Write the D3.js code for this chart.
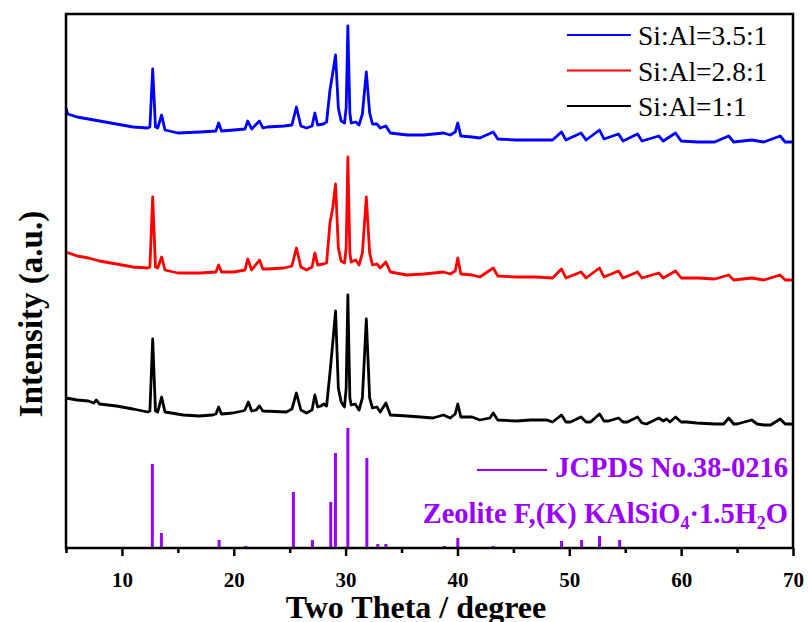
<!DOCTYPE html>
<html lang="en">

<head>
  <script src="https://cdn.jsdelivr.net/npm/d3@7/dist/d3.min.js"></script>

  <style>
    body {
      margin: 0;
      background: #fff;
    }

    svg text {
      font-family: "Liberation Serif", "Times New Roman", Times, "DejaVu Serif", serif;
    }

    .axis text {
      fill: black;
      font-weight: bold;
      font-size: 21px;
    }

    .axis line {
      stroke: black;
      stroke-width: 2.5;
    }

    .trace {
      fill: none;
      stroke-width: 2.8;
      stroke-linejoin: round;
    }
  </style>
</head>

<body>
  <svg id="chart" width="808" height="622"></svg>

  <script>
    // XRD traces, [2theta, intensity (a.u.)]
    var ratio11 = [
      [5.0, 150], [6.0, 148], [7.0, 147], [7.5, 145], [7.7, 148], [8.0, 144], [9.5, 142], [11.0, 139],
      [12.3, 136], [12.5, 137], [12.75, 209], [13.0, 137], [13.2, 136], [13.55, 151], [13.85, 136],
      [15.5, 133], [16.9, 132], [18.1, 133], [18.4, 134], [18.65, 141], [18.9, 134], [19.9, 135],
      [20.8, 137], [21.0, 138], [21.3, 146], [21.6, 137], [22.0, 138], [22.3, 142], [22.6, 137],
      [24.7, 136], [25.2, 139], [25.6, 155], [26.0, 138], [26.5, 135], [27.0, 138], [27.25, 153],
      [27.5, 141], [27.8, 142], [28.05, 144], [28.3, 142], [28.6, 175], [28.85, 205], [29.1, 237],
      [29.35, 160], [29.6, 146], [29.9, 141], [30.05, 160], [30.2, 253], [30.38, 150], [30.5, 143],
      [30.85, 144], [31.2, 138], [31.5, 150], [31.85, 229], [32.15, 150], [32.4, 140], [32.8, 141],
      [33.1, 136], [33.6, 145], [34.0, 133], [35.5, 132], [36.7, 131], [37.8, 130], [38.75, 133],
      [39.35, 130], [39.8, 134], [40.03, 144], [40.3, 131], [41.3, 131], [42.0, 128], [42.9, 130],
      [43.2, 135], [43.6, 128], [45.3, 127], [46.5, 128], [48.0, 128], [48.5, 126], [49.3, 133],
      [49.7, 126], [50.1, 126], [51.05, 131], [51.5, 126], [51.9, 126], [52.7, 134], [53.1, 127],
      [53.5, 127], [54.4, 130], [54.8, 126], [55.2, 126], [56.1, 131], [56.5, 125], [56.9, 124],
      [58.0, 130], [58.4, 127], [58.7, 129], [59.0, 126], [59.5, 131], [60.0, 126], [60.5, 126],
      [61.4, 125], [63.0, 124], [63.8, 124], [64.25, 130], [64.7, 124], [65.0, 124], [66.3, 128],
      [66.8, 124], [67.4, 123], [68.0, 123], [68.85, 129], [69.3, 124], [69.8, 124], [70.0, 124]
    ];

    var ratio28 = [
      [5.0, 296], [6.0, 292], [7.0, 290], [8.0, 287], [9.0, 285], [10.0, 283], [11.0, 281],
      [12.3, 280], [12.5, 281], [12.75, 351], [13.0, 281], [13.2, 280], [13.55, 291], [13.85, 278],
      [15.0, 275], [17.0, 275], [18.4, 276], [18.65, 283], [18.9, 276], [20.0, 276], [21.0, 278],
      [21.25, 289], [21.6, 278], [22.3, 288], [22.6, 279], [23.0, 279], [24.5, 280], [25.2, 282],
      [25.6, 300], [26.0, 281], [26.5, 278], [27.0, 281], [27.25, 295], [27.5, 283], [28.0, 284],
      [28.3, 285], [28.6, 325], [28.85, 340], [29.1, 364], [29.35, 300], [29.6, 287], [29.9, 285],
      [30.05, 300], [30.2, 391], [30.38, 295], [30.5, 286], [30.9, 288], [31.2, 283], [31.5, 295],
      [31.85, 351], [32.15, 295], [32.4, 283], [32.8, 284], [33.1, 280], [33.6, 286], [34.0, 276],
      [35.5, 273], [37.0, 274], [38.75, 276], [39.35, 274], [39.8, 277], [40.03, 290], [40.3, 274],
      [41.3, 273], [42.0, 271], [43.2, 280], [43.6, 272], [45.3, 271], [47.0, 271], [48.5, 270],
      [49.3, 279], [49.7, 270], [51.05, 276], [51.5, 270], [52.7, 280], [53.1, 271], [54.4, 277],
      [54.8, 270], [56.1, 276], [56.5, 270], [58.0, 275], [58.4, 270], [59.5, 277], [60.0, 270],
      [61.5, 270], [63.0, 269], [64.25, 273], [64.7, 268], [66.3, 270], [67.4, 268], [68.85, 273],
      [69.3, 268], [70.0, 268]
    ];

    var ratio35 = [
      [5.0, 440], [5.15, 434], [6.0, 431], [7.0, 429], [8.0, 427], [9.0, 425], [10.0, 423], [11.0, 421],
      [12.3, 420], [12.5, 421], [12.75, 479], [13.0, 421], [13.2, 420], [13.55, 433], [13.85, 418],
      [15.0, 415], [17.0, 416], [18.4, 417], [18.65, 425], [18.9, 417], [20.0, 418], [21.0, 419],
      [21.25, 427], [21.6, 419], [22.3, 427], [22.6, 420], [23.0, 421], [24.5, 422], [25.2, 423],
      [25.6, 441], [26.0, 422], [26.5, 420], [27.0, 422], [27.25, 435], [27.5, 423], [28.0, 424],
      [28.3, 426], [28.6, 458], [28.85, 475], [29.1, 493], [29.35, 440], [29.6, 427], [29.9, 425],
      [30.05, 440], [30.2, 522], [30.38, 435], [30.5, 425], [30.9, 426], [31.2, 423], [31.5, 434],
      [31.85, 476], [32.15, 435], [32.4, 424], [32.8, 424], [33.1, 420], [33.6, 422], [34.0, 415],
      [35.5, 413], [37.0, 413], [38.75, 415], [39.35, 413], [39.8, 416], [40.03, 425], [40.3, 412],
      [41.3, 411], [42.0, 410], [43.2, 416], [43.6, 409], [45.3, 408], [47.0, 408], [48.5, 408],
      [49.3, 416], [49.7, 408], [51.05, 415], [51.5, 408], [52.7, 418], [53.1, 409], [54.4, 414],
      [54.8, 407], [56.1, 414], [56.5, 407], [58.0, 412], [58.4, 407], [59.5, 415], [60.0, 407],
      [61.5, 406], [63.0, 406], [64.25, 412], [64.7, 406], [66.3, 408], [67.4, 406], [68.85, 412],
      [69.3, 406], [70.0, 406]
    ];

    // JCPDS 38-0216 reference lines
    var stickPos = [12.72, 13.53, 18.69, 21.07, 25.33, 27.03, 28.67, 29.09, 30.2, 31.9, 32.88, 33.6,
      38.84, 40.03, 43.2, 49.3, 51.1, 52.7, 54.5];
    var stickInt = [84, 15, 8, 2, 56, 8, 46, 95, 120, 90, 4, 4, 2, 10, 2, 7, 8, 12, 8];

    var seriesNames = ['Si:Al=3.5:1', 'Si:Al=2.8:1', 'Si:Al=1:1'];
    var seriesColors = ['#0000ff', '#ff0000', '#000000'];
    var seriesData = [ratio35, ratio28, ratio11];

    var majorTicks = [10, 20, 30, 40, 50, 60, 70];
    var minorTicks = [5, 15, 25, 35, 45, 55, 65];

    var purple = '#9a00ff';
    var margin = { top: 14, left: 66, bottom: 74, right: 15 };
    var width = 808 - margin.left - margin.right;
    var height = 622 - margin.top - margin.bottom;

    var xScale = d3.scaleLinear().domain([5, 70]).range([0, width]);
    var yScale = d3.scaleLinear().domain([0, height]).range([height, 0]);

    var svg = d3.select('#chart')
      .append('g')
      .attr('transform', 'translate(' + margin.left + ',' + margin.top + ')');

    // sticks
    svg.selectAll('.stick')
      .data(stickPos)
      .enter().append('line')
      .attr('class', 'stick')
      .attr('x1', function (d) { return xScale(d); })
      .attr('x2', function (d) { return xScale(d); })
      .attr('y1', yScale(0))
      .attr('y2', function (d, i) { return yScale(stickInt[i]); })
      .attr('stroke', purple)
      .attr('stroke-width', 3);

    var line = d3.line()
      .x(function (d) { return xScale(d[0]); })
      .y(function (d) { return yScale(d[1]); });

    svg.selectAll('.trace')
      .data(seriesData)
      .enter().append('path')
      .attr('class', 'trace')
      .attr('stroke', function (d, i) { return seriesColors[i]; })
      .attr('d', line);

    // bottom axis, major + minor
    var xAxis = d3.axisBottom(xScale).tickValues(majorTicks).tickSize(8).tickPadding(16)
      .tickFormat(d3.format('d'));
    svg.append('g')
      .attr('class', 'x axis')
      .attr('transform', 'translate(0,' + height + ')')
      .call(xAxis)
      .call(function (g) { g.select('.domain').remove(); g.attr('font-family', null); });

    svg.append('g')
      .attr('class', 'axis')
      .attr('transform', 'translate(0,' + height + ')')
      .call(d3.axisBottom(xScale).tickValues(minorTicks).tickSize(5).tickFormat(''))
      .call(function (g) { g.select('.domain').remove(); });

    // frame
    svg.append('rect')
      .attr('width', width)
      .attr('height', height)
      .attr('fill', 'none')
      .attr('stroke', 'black')
      .attr('stroke-width', 2.5);

    // legend
    var legend = svg.selectAll('.legend')
      .data(seriesNames)
      .enter().append('g')
      .attr('class', 'legend')
      .attr('transform', function (d, i) { return 'translate(501,' + (21 + i * 35.5) + ')'; });

    legend.append('line')
      .attr('x1', 0).attr('x2', 64)
      .attr('stroke', function (d, i) { return seriesColors[i]; })
      .attr('stroke-width', 2);

    legend.append('text')
      .attr('x', 71)
      .attr('y', 10)
      .style('font-size', '27.5px')
      .text(function (d) { return d; });

    // reference legend
    svg.append('line')
      .attr('x1', 411).attr('x2', 481)
      .attr('y1', 456).attr('y2', 456)
      .attr('stroke', purple)
      .attr('stroke-width', 2);

    svg.append('text')
      .attr('x', 722).attr('y', 463)
      .attr('text-anchor', 'end')
      .attr('fill', purple)
      .style('font-weight', 'bold')
      .style('font-size', '28.5px')
      .text('JCPDS No.38-0216');

    var ref = svg.append('text')
      .attr('x', 722).attr('y', 509)
      .attr('text-anchor', 'end')
      .attr('fill', purple)
      .style('font-weight', 'bold')
      .style('font-size', '28.5px');
    ref.append('tspan').text('Zeolite F,(K) KAlSiO');
    ref.append('tspan').attr('dy', 6).style('font-size', '18px').text('4');
    ref.append('tspan').attr('dy', -6).text('\u00b71.5H');
    ref.append('tspan').attr('dy', 6).style('font-size', '18px').text('2');
    ref.append('tspan').attr('dy', -6).text('O');

    // axis titles
    svg.append('text')
      .attr('x', 350)
      .attr('y', height + 70)
      .attr('text-anchor', 'middle')
      .style('font-weight', 'bold')
      .style('font-size', '32px')
      .text('Two Theta / degree');

    svg.append('text')
      .attr('transform', 'translate(' + (-24) + ',' + 300 + ') rotate(-90)')
      .attr('text-anchor', 'middle')
      .style('font-weight', 'bold')
      .style('font-size', '33px')
      .text('Intensity (a.u.)');
  </script>
</body>

</html>
